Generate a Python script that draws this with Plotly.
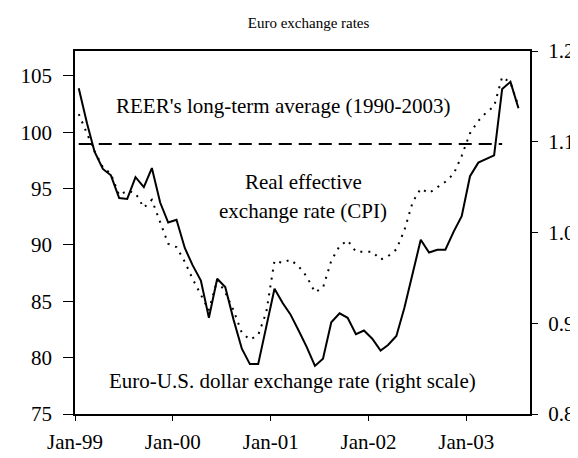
import plotly.graph_objects as go

# ---- data (monthly, Jan-1999 .. Jul-2003) ----
years = [1999, 2000, 2001, 2002, 2003]
months = [f"{y}-{m:02d}-15" for y in years for m in range(1, 13)][:55]

# Real effective exchange rate (CPI), left scale
reer = [101.6, 99.9, 98.3, 96.9, 96.3, 94.4, 94.8, 94.6, 93.3, 94.0, 92.1, 90.1,
        89.8, 88.5, 87.0, 85.6, 84.2, 86.9, 85.8, 84.2, 82.2, 81.6, 82.0, 84.0,
        88.6, 88.4, 88.7, 88.1, 87.2, 85.8, 86.2, 88.6, 89.9, 90.4, 89.4, 89.4,
        89.4, 88.7, 89.0, 89.6, 91.3, 93.8, 95.0, 94.6, 95.1, 95.6, 96.3, 97.9,
        99.9, 101.0, 101.7, 102.3, 104.9, 104.4, 102.3]

# Euro - U.S. dollar exchange rate, right scale
eurusd = [1.159, 1.120, 1.089, 1.070, 1.063, 1.038, 1.037, 1.061, 1.050, 1.071, 1.033, 1.011,
          1.014, 0.983, 0.964, 0.947, 0.906, 0.949, 0.940, 0.904, 0.872, 0.855, 0.855, 0.897,
          0.938, 0.922, 0.910, 0.892, 0.874, 0.853, 0.861, 0.901, 0.911, 0.906, 0.888, 0.892,
          0.883, 0.870, 0.876, 0.886, 0.917, 0.955, 0.992, 0.978, 0.981, 0.981, 1.001, 1.018,
          1.062, 1.077, 1.081, 1.085, 1.158, 1.166, 1.137]

# REER long-term average (1990-2003) and the span over which it is drawn
reer_avg = 98.95
avg_span = ["1999-01-15", "2003-05-15"]

tick_dates = ["1999-01-01", "2000-01-01", "2001-01-01", "2002-01-01", "2003-01-01"]
tick_text = ["Jan-99", "Jan-00", "Jan-01", "Jan-02", "Jan-03"]
left_ticks = [75, 80, 85, 90, 95, 100, 105]
right_ticks = [0.8, 0.9, 1.0, 1.1, 1.2]

FONT = "Liberation Serif"

fig = go.Figure()
fig.add_trace(go.Scatter(x=avg_span, y=[reer_avg, reer_avg], mode="lines",
                         line=dict(color="black", width=2, dash="13px,7px"),
                         hoverinfo="skip"))
fig.add_trace(go.Scatter(x=months, y=reer, mode="lines", name="REER",
                         line=dict(color="black", width=2, dash="2px,6px")))
fig.add_trace(go.Scatter(x=months, y=eurusd, mode="lines", name="EUR/USD",
                         yaxis="y2", line=dict(color="black", width=2)))

fig.update_layout(
    width=578, height=458,
    margin=dict(l=67, r=55, t=43, b=40),
    paper_bgcolor="white", plot_bgcolor="white",
    showlegend=False,
    font=dict(family=FONT, size=21, color="black"),
    title=dict(text="Euro exchange rates", x=0.52, xanchor="center",
               y=0.967, yanchor="middle", font=dict(size=15, family=FONT)),
    xaxis=dict(type="date", range=["1999-01-01", "2003-08-27"],
               tickvals=tick_dates, ticktext=tick_text,
               ticks="outside", ticklen=5, tickcolor="black",
               showgrid=False, zeroline=False,
               showline=True, linecolor="black", linewidth=1.5, mirror=True,
               ticklabelstandoff=3, tickfont=dict(size=21, family=FONT)),
    yaxis=dict(range=[75, 107.2], tickvals=left_ticks,
               ticks="outside", ticklen=10, tickcolor="black",
               showgrid=False, zeroline=False,
               showline=True, linecolor="black", linewidth=1.5,
               ticklabelstandoff=7, tickfont=dict(size=21, family=FONT)),
    yaxis2=dict(range=[0.8, 1.2], tickvals=right_ticks, tickformat=".1f",
                overlaying="y", side="right", anchor="x",
                ticks="outside", ticklen=6, tickcolor="black",
                showgrid=False, zeroline=False,
                showline=True, linecolor="black", linewidth=2,
                ticklabelstandoff=6, tickfont=dict(size=21, family=FONT)),
    yaxis3=dict(range=[0.8, 1.2], tickvals=right_ticks,
                overlaying="y", side="right", anchor="x",
                ticks="inside", ticklen=6, tickcolor="black",
                showticklabels=False, showgrid=False, zeroline=False,
                showline=False),
)

ann = dict(xref="paper", yref="paper", showarrow=False,
           font=dict(family=FONT, size=21, color="black"))
fig.add_annotation(text="REER's long-term average (1990-2003)",
                   x=0.458, y=0.848, xanchor="center", yanchor="middle", **ann)
fig.add_annotation(text="Real effective",
                   x=0.502, y=0.64, xanchor="center", yanchor="middle", **ann)
fig.add_annotation(text="exchange rate (CPI)",
                   x=0.502, y=0.56, xanchor="center", yanchor="middle", **ann)
fig.add_annotation(text="Euro-U.S. dollar exchange rate (right scale)",
                   x=0.478, y=0.0907, xanchor="center", yanchor="middle", **ann)

fig.write_html("out.html")
